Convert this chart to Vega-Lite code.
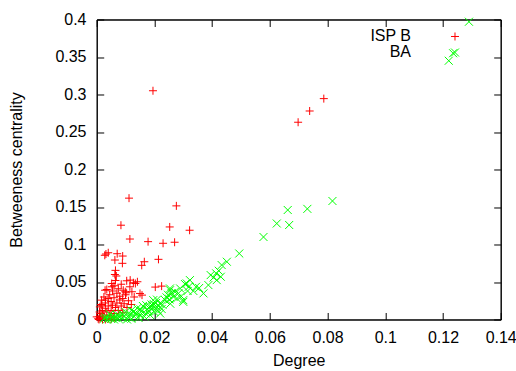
{
  "$schema": "https://vega.github.io/schema/vega-lite/v6.json",
  "width": 404,
  "height": 300,
  "autosize": {"type": "none"},
  "padding": {"left": 96.7, "top": 19.5, "right": 15.3, "bottom": 51.7},
  "config": {
    "font": "Liberation Sans",
    "view": {"stroke": "black", "strokeWidth": 1},
    "axis": {
      "grid": false, "domainColor": "black", "tickColor": "black", "tickSize": -7, "tickWidth": 1,
      "labelFontSize": 16, "labelColor": "black", "labelFont": "Liberation Sans",
      "titleFontSize": 16, "titleFontWeight": "normal", "titleColor": "black", "titleFont": "Liberation Sans",
      "labelFlush": false, "labelOverlap": false
    }
  },
  "data": {"values": [
    {"series": "ISP B", "degree": 0.0195, "betweenness": 0.305},
    {"series": "ISP B", "degree": 0.0698, "betweenness": 0.263},
    {"series": "ISP B", "degree": 0.0738, "betweenness": 0.278},
    {"series": "ISP B", "degree": 0.0787, "betweenness": 0.2945},
    {"series": "ISP B", "degree": 0.0112, "betweenness": 0.1618},
    {"series": "ISP B", "degree": 0.0276, "betweenness": 0.1515},
    {"series": "ISP B", "degree": 0.0084, "betweenness": 0.1257},
    {"series": "ISP B", "degree": 0.0253, "betweenness": 0.1234},
    {"series": "ISP B", "degree": 0.0322, "betweenness": 0.119},
    {"series": "ISP B", "degree": 0.0115, "betweenness": 0.1073},
    {"series": "ISP B", "degree": 0.0178, "betweenness": 0.1038},
    {"series": "ISP B", "degree": 0.023, "betweenness": 0.1016},
    {"series": "ISP B", "degree": 0.027, "betweenness": 0.103},
    {"series": "ISP B", "degree": 0.0032, "betweenness": 0.0873},
    {"series": "ISP B", "degree": 0.004, "betweenness": 0.089},
    {"series": "ISP B", "degree": 0.0071, "betweenness": 0.0877},
    {"series": "ISP B", "degree": 0.009, "betweenness": 0.0846},
    {"series": "ISP B", "degree": 0.0028, "betweenness": 0.0856},
    {"series": "ISP B", "degree": 0.0063, "betweenness": 0.0793},
    {"series": "ISP B", "degree": 0.0089, "betweenness": 0.0749},
    {"series": "ISP B", "degree": 0.0156, "betweenness": 0.0722},
    {"series": "ISP B", "degree": 0.0165, "betweenness": 0.077},
    {"series": "ISP B", "degree": 0.0214, "betweenness": 0.0802},
    {"series": "ISP B", "degree": 0.0203, "betweenness": 0.0432},
    {"series": "ISP B", "degree": 0.0225, "betweenness": 0.0445},
    {"series": "ISP B", "degree": 0.0063, "betweenness": 0.06},
    {"series": "ISP B", "degree": 0.0065, "betweenness": 0.0655},
    {"series": "ISP B", "degree": 0.0104, "betweenness": 0.0516},
    {"series": "ISP B", "degree": 0.0127, "betweenness": 0.049},
    {"series": "ISP B", "degree": 0.0141, "betweenness": 0.0503},
    {"series": "ISP B", "degree": 0.0115, "betweenness": 0.0436},
    {"series": "ISP B", "degree": 0.0052, "betweenness": 0.048},
    {"series": "ISP B", "degree": 0.0029, "betweenness": 0.039},
    {"series": "ISP B", "degree": 0.0092, "betweenness": 0.039},
    {"series": "ISP B", "degree": 0.015, "betweenness": 0.0347},
    {"series": "ISP B", "degree": 0.0102, "betweenness": 0.0356},
    {"series": "ISP B", "degree": 0.0017, "betweenness": 0.0258},
    {"series": "ISP B", "degree": 0.0011, "betweenness": 0.0168},
    {"series": "ISP B", "degree": 0.0, "betweenness": 0.0035},
    {"series": "ISP B", "degree": 0.0053, "betweenness": 0.0436},
    {"series": "ISP B", "degree": 0.003, "betweenness": 0.0258},
    {"series": "ISP B", "degree": 0.0018, "betweenness": 0.019},
    {"series": "ISP B", "degree": 0.0099, "betweenness": 0.037},
    {"series": "ISP B", "degree": 0.0134, "betweenness": 0.048},
    {"series": "ISP B", "degree": 0.0116, "betweenness": 0.0525},
    {"series": "ISP B", "degree": 0.0157, "betweenness": 0.0325},
    {"series": "ISP B", "degree": 0.0122, "betweenness": 0.037},
    {"series": "ISP B", "degree": 0.0005, "betweenness": 0.001},
    {"series": "ISP B", "degree": 0.001, "betweenness": 0.004},
    {"series": "ISP B", "degree": 0.0015, "betweenness": 0.008},
    {"series": "ISP B", "degree": 0.002, "betweenness": 0.012},
    {"series": "ISP B", "degree": 0.002, "betweenness": 0.003},
    {"series": "ISP B", "degree": 0.0025, "betweenness": 0.006},
    {"series": "ISP B", "degree": 0.003, "betweenness": 0.015},
    {"series": "ISP B", "degree": 0.003, "betweenness": 0.022},
    {"series": "ISP B", "degree": 0.0035, "betweenness": 0.01},
    {"series": "ISP B", "degree": 0.004, "betweenness": 0.018},
    {"series": "ISP B", "degree": 0.004, "betweenness": 0.028},
    {"series": "ISP B", "degree": 0.0045, "betweenness": 0.005},
    {"series": "ISP B", "degree": 0.0045, "betweenness": 0.033},
    {"series": "ISP B", "degree": 0.005, "betweenness": 0.012},
    {"series": "ISP B", "degree": 0.005, "betweenness": 0.024},
    {"series": "ISP B", "degree": 0.0055, "betweenness": 0.038},
    {"series": "ISP B", "degree": 0.0055, "betweenness": 0.019},
    {"series": "ISP B", "degree": 0.006, "betweenness": 0.045},
    {"series": "ISP B", "degree": 0.006, "betweenness": 0.008},
    {"series": "ISP B", "degree": 0.006, "betweenness": 0.029},
    {"series": "ISP B", "degree": 0.0065, "betweenness": 0.052},
    {"series": "ISP B", "degree": 0.0065, "betweenness": 0.016},
    {"series": "ISP B", "degree": 0.007, "betweenness": 0.035},
    {"series": "ISP B", "degree": 0.007, "betweenness": 0.022},
    {"series": "ISP B", "degree": 0.0075, "betweenness": 0.041},
    {"series": "ISP B", "degree": 0.0075, "betweenness": 0.012},
    {"series": "ISP B", "degree": 0.008, "betweenness": 0.026},
    {"series": "ISP B", "degree": 0.008, "betweenness": 0.031},
    {"series": "ISP B", "degree": 0.0085, "betweenness": 0.018},
    {"series": "ISP B", "degree": 0.0085, "betweenness": 0.047},
    {"series": "ISP B", "degree": 0.009, "betweenness": 0.009},
    {"series": "ISP B", "degree": 0.009, "betweenness": 0.028},
    {"series": "ISP B", "degree": 0.0095, "betweenness": 0.021},
    {"series": "ISP B", "degree": 0.01, "betweenness": 0.033},
    {"series": "ISP B", "degree": 0.0105, "betweenness": 0.016},
    {"series": "ISP B", "degree": 0.011, "betweenness": 0.025},
    {"series": "ISP B", "degree": 0.012, "betweenness": 0.02},
    {"series": "ISP B", "degree": 0.013, "betweenness": 0.03},
    {"series": "ISP B", "degree": 0.0035, "betweenness": 0.04},
    {"series": "ISP B", "degree": 0.0025, "betweenness": 0.03},
    {"series": "ISP B", "degree": 0.001, "betweenness": 0.01},
    {"series": "ISP B", "degree": 0.0015, "betweenness": 0.02},
    {"series": "ISP B", "degree": 0.002, "betweenness": 0.0},
    {"series": "ISP B", "degree": 0.004, "betweenness": 0.001},
    {"series": "ISP B", "degree": 0.006, "betweenness": 0.002},
    {"series": "ISP B", "degree": 0.0008, "betweenness": 0.0},
    {"series": "ISP B", "degree": 0.003, "betweenness": 0.0},
    {"series": "ISP B", "degree": 0.005, "betweenness": 0.0005},
    {"series": "ISP B", "degree": 0.0012, "betweenness": 0.002},
    {"series": "ISP B", "degree": 0.0068, "betweenness": 0.058},
    {"series": "BA", "degree": 0.129, "betweenness": 0.397},
    {"series": "BA", "degree": 0.1235, "betweenness": 0.355},
    {"series": "BA", "degree": 0.122, "betweenness": 0.345},
    {"series": "BA", "degree": 0.0817, "betweenness": 0.158},
    {"series": "BA", "degree": 0.073, "betweenness": 0.1475},
    {"series": "BA", "degree": 0.0662, "betweenness": 0.146},
    {"series": "BA", "degree": 0.0667, "betweenness": 0.126},
    {"series": "BA", "degree": 0.0624, "betweenness": 0.128},
    {"series": "BA", "degree": 0.0578, "betweenness": 0.11},
    {"series": "BA", "degree": 0.0494, "betweenness": 0.088},
    {"series": "BA", "degree": 0.0451, "betweenness": 0.077},
    {"series": "BA", "degree": 0.0433, "betweenness": 0.0726},
    {"series": "BA", "degree": 0.043, "betweenness": 0.057},
    {"series": "BA", "degree": 0.0414, "betweenness": 0.0615},
    {"series": "BA", "degree": 0.0395, "betweenness": 0.0592},
    {"series": "BA", "degree": 0.0387, "betweenness": 0.0459},
    {"series": "BA", "degree": 0.037, "betweenness": 0.0348},
    {"series": "BA", "degree": 0.0344, "betweenness": 0.0436},
    {"series": "BA", "degree": 0.0323, "betweenness": 0.0525},
    {"series": "BA", "degree": 0.0319, "betweenness": 0.0436},
    {"series": "BA", "degree": 0.0306, "betweenness": 0.0472},
    {"series": "BA", "degree": 0.0289, "betweenness": 0.0414},
    {"series": "BA", "degree": 0.03, "betweenness": 0.0258},
    {"series": "BA", "degree": 0.0283, "betweenness": 0.0348},
    {"series": "BA", "degree": 0.0271, "betweenness": 0.0369},
    {"series": "BA", "degree": 0.0254, "betweenness": 0.0414},
    {"series": "BA", "degree": 0.0252, "betweenness": 0.0267},
    {"series": "BA", "degree": 0.0266, "betweenness": 0.0302},
    {"series": "BA", "degree": 0.0237, "betweenness": 0.0258},
    {"series": "BA", "degree": 0.0247, "betweenness": 0.033},
    {"series": "BA", "degree": 0.0312, "betweenness": 0.048},
    {"series": "BA", "degree": 0.0416, "betweenness": 0.0525},
    {"series": "BA", "degree": 0.0219, "betweenness": 0.0214},
    {"series": "BA", "degree": 0.0208, "betweenness": 0.0168},
    {"series": "BA", "degree": 0.0196, "betweenness": 0.0258},
    {"series": "BA", "degree": 0.0185, "betweenness": 0.0168},
    {"series": "BA", "degree": 0.0212, "betweenness": 0.012},
    {"series": "BA", "degree": 0.0205, "betweenness": 0.022},
    {"series": "BA", "degree": 0.02, "betweenness": 0.01},
    {"series": "BA", "degree": 0.019, "betweenness": 0.02},
    {"series": "BA", "degree": 0.0175, "betweenness": 0.014},
    {"series": "BA", "degree": 0.017, "betweenness": 0.008},
    {"series": "BA", "degree": 0.016, "betweenness": 0.018},
    {"series": "BA", "degree": 0.0155, "betweenness": 0.011},
    {"series": "BA", "degree": 0.015, "betweenness": 0.006},
    {"series": "BA", "degree": 0.014, "betweenness": 0.015},
    {"series": "BA", "degree": 0.0135, "betweenness": 0.009},
    {"series": "BA", "degree": 0.013, "betweenness": 0.004},
    {"series": "BA", "degree": 0.012, "betweenness": 0.012},
    {"series": "BA", "degree": 0.0115, "betweenness": 0.007},
    {"series": "BA", "degree": 0.011, "betweenness": 0.003},
    {"series": "BA", "degree": 0.01, "betweenness": 0.01},
    {"series": "BA", "degree": 0.0095, "betweenness": 0.005},
    {"series": "BA", "degree": 0.009, "betweenness": 0.002},
    {"series": "BA", "degree": 0.0085, "betweenness": 0.008},
    {"series": "BA", "degree": 0.008, "betweenness": 0.004},
    {"series": "BA", "degree": 0.0075, "betweenness": 0.001},
    {"series": "BA", "degree": 0.007, "betweenness": 0.006},
    {"series": "BA", "degree": 0.0065, "betweenness": 0.003},
    {"series": "BA", "degree": 0.006, "betweenness": 0.0},
    {"series": "BA", "degree": 0.0055, "betweenness": 0.004},
    {"series": "BA", "degree": 0.005, "betweenness": 0.001},
    {"series": "BA", "degree": 0.0045, "betweenness": 0.007},
    {"series": "BA", "degree": 0.004, "betweenness": 0.002},
    {"series": "BA", "degree": 0.0035, "betweenness": 0.0},
    {"series": "BA", "degree": 0.003, "betweenness": 0.003},
    {"series": "BA", "degree": 0.0025, "betweenness": 0.001},
    {"series": "BA", "degree": 0.0165, "betweenness": 0.004},
    {"series": "BA", "degree": 0.0185, "betweenness": 0.006},
    {"series": "BA", "degree": 0.0195, "betweenness": 0.015},
    {"series": "BA", "degree": 0.0215, "betweenness": 0.018},
    {"series": "BA", "degree": 0.022, "betweenness": 0.008},
    {"series": "BA", "degree": 0.0145, "betweenness": 0.002},
    {"series": "BA", "degree": 0.012, "betweenness": 0.001},
    {"series": "BA", "degree": 0.0105, "betweenness": 0.0},
    {"series": "BA", "degree": 0.018, "betweenness": 0.011},
    {"series": "BA", "degree": 0.0225, "betweenness": 0.014},
    {"series": "BA", "degree": 0.0255, "betweenness": 0.021},
    {"series": "BA", "degree": 0.0254, "betweenness": 0.039},
    {"series": "BA", "degree": 0.03, "betweenness": 0.0235},
    {"series": "BA", "degree": 0.0278, "betweenness": 0.028},
    {"series": "BA", "degree": 0.0335, "betweenness": 0.038},
    {"series": "BA", "degree": 0.0355, "betweenness": 0.042},
    {"series": "BA", "degree": 0.0405, "betweenness": 0.056},
    {"series": "BA", "degree": 0.0423, "betweenness": 0.065},
    {"series": "BA", "degree": 0.0198, "betweenness": 0.0205},
    {"series": "BA", "degree": 0.0209, "betweenness": 0.0265},
    {"series": "BA", "degree": 0.0172, "betweenness": 0.019},
    {"series": "BA", "degree": 0.0228, "betweenness": 0.0195},
    {"series": "BA", "degree": 0.0242, "betweenness": 0.0295},
    {"series": "BA", "degree": 0.026, "betweenness": 0.035},
    {"series": "BA", "degree": 0.0293, "betweenness": 0.031},
    {"series": "BA", "degree": 0.0315, "betweenness": 0.038},
    {"series": "BA", "degree": 0.0152, "betweenness": 0.0135},
    {"series": "BA", "degree": 0.0128, "betweenness": 0.0105}
  ]},
  "encoding": {
    "color": {
      "field": "series", "type": "nominal",
      "scale": {"domain": ["ISP B", "BA"], "range": ["#ff0000", "#00ff00"]},
      "legend": {"orient": "none", "legendX": 350.3, "legendY": 9, "title": null, "padding": 0,
        "labelFontSize": 16, "labelColor": "black", "labelAlign": "right", "labelOffset": -52,
        "symbolSize": 64, "symbolStrokeWidth": 1, "rowPadding": 0, "labelLimit": 0}
    },
    "shape": {
      "field": "series", "type": "nominal",
      "scale": {"domain": ["ISP B", "BA"], "range": ["M-1,0L1,0M0,-1L0,1", "M-1,-1L1,1M-1,1L1,-1"]},
      "legend": {"orient": "none", "legendX": 350.3, "legendY": 9, "title": null, "padding": 0,
        "labelFontSize": 16, "labelColor": "black", "labelAlign": "right", "labelOffset": -52,
        "symbolSize": 64, "symbolStrokeWidth": 1, "rowPadding": 0, "labelLimit": 0}
    }
  },
  "layer": [
    {
      "transform": [{"filter": "datum.series == 'ISP B'"}],
      "mark": {"type": "point", "filled": false, "size": 64, "strokeWidth": 1, "opacity": 1},
      "encoding": {
        "x": {"field": "degree", "type": "quantitative", "title": "Degree",
          "scale": {"domain": [0, 0.14], "nice": false, "zero": false},
          "axis": {"values": [0, 0.02, 0.04, 0.06, 0.08, 0.1, 0.12, 0.14], "format": "~g", "labelPadding": 17.5,
            "titleX": 202, "titleY": 46, "titleBaseline": "alphabetic", "titleAlign": "center", "titleAnchor": null}},
        "y": {"field": "betweenness", "type": "quantitative", "title": "Betweeness centrality",
          "scale": {"domain": [0, 0.4], "nice": false, "zero": false},
          "axis": {"values": [0, 0.05, 0.1, 0.15, 0.2, 0.25, 0.3, 0.35, 0.4], "format": "~g", "labelPadding": 17.7,
            "titleX": -75, "titleY": 150, "titleAngle": -90, "titleBaseline": "alphabetic", "titleAlign": "center", "titleAnchor": null}}
      }
    },
    {
      "transform": [{"filter": "datum.series == 'BA'"}],
      "mark": {"type": "point", "filled": false, "size": 64, "strokeWidth": 1, "opacity": 1},
      "encoding": {
        "x": {"field": "degree", "type": "quantitative",
          "scale": {"domain": [0, 0.14], "nice": false, "zero": false},
          "axis": {"orient": "top", "values": [0, 0.02, 0.04, 0.06, 0.08, 0.1, 0.12, 0.14], "labels": false, "title": null}},
        "y": {"field": "betweenness", "type": "quantitative",
          "scale": {"domain": [0, 0.4], "nice": false, "zero": false},
          "axis": {"orient": "right", "values": [0, 0.05, 0.1, 0.15, 0.2, 0.25, 0.3, 0.35, 0.4], "labels": false, "title": null}}
      }
    }
  ],
  "resolve": {"axis": {"x": "independent", "y": "independent"}}
}
